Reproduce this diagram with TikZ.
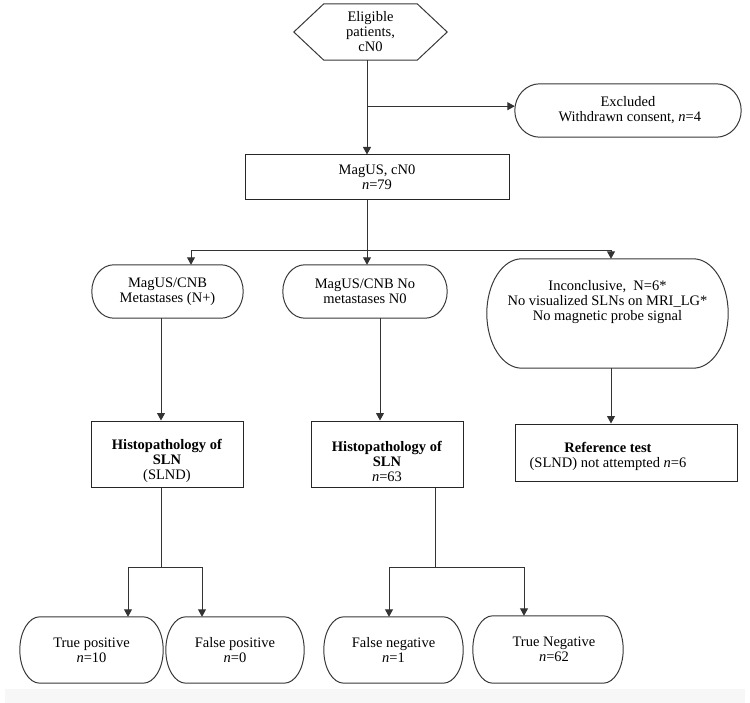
\documentclass[tikz,border=0pt]{standalone}
\usepackage{fontspec}
\setmainfont{Liberation Serif}
\usetikzlibrary{arrows.meta,calc}
\newcommand{\capsulebox}[2]{%
  \draw[boxline] let \p1=(#1.north west), \p2=(#1.south east), \n1={(\y1-\y2)/2} in
    (\x1+#2,\y1) -- (\x2-#2,\y1)
    arc[start angle=90,end angle=-90,x radius=#2,y radius=\n1*1pt]
    -- (\x1+#2,\y2)
    arc[start angle=270,end angle=90,x radius=#2,y radius=\n1*1pt] -- cycle;}
\begin{document}
\begin{tikzpicture}[x=1pt,y=-1pt,
  boxline/.style={draw=black!78,line width=1pt},
  txt/.style={align=center,inner sep=0pt,font=\fontsize{14.5}{15}\selectfont},
  box/.style={txt,draw=black!85,line width=1pt},
  capnode/.style={txt},
  ln/.style={draw=black!80,line width=1pt},
  arr/.style={ln,-{Triangle[width=8pt,length=7.5pt]}}]
\useasboundingbox (0,0) rectangle (750,703);
\fill[black!3] (5,689) rectangle (745,703);

% top hexagon
\node[txt,minimum width=153pt,minimum height=56pt] (hex) at (370.5,32) {Eligible\\patients,\\cN0};
\draw[boxline] (hex.west) -- ($(hex.north west)+(30,0)$) -- ($(hex.north east)+(-30,0)$) -- (hex.east)
  -- ($(hex.south east)+(-30,0)$) -- ($(hex.south west)+(30,0)$) -- cycle;

\node[capnode,minimum width=226pt,minimum height=53pt] (excl) at (628,110.5) {Excluded\\ \ Withdrawn consent, \textit{n}=4};
\capsulebox{excl}{25pt}

\node[box,minimum width=264pt,minimum height=45pt] (magus) at (377,177.5) {MagUS, cN0\\\textit{n}=79};

\node[capnode,minimum width=151pt,minimum height=53pt] (mpos) at (167.5,291.5) {MagUS/CNB\\Metastases (N+)};
\capsulebox{mpos}{22pt}
\node[capnode,minimum width=164pt,minimum height=53pt] (mneg) at (365,291.5) {MagUS/CNB No\\metastases N0};
\capsulebox{mneg}{22pt}
\node[capnode,minimum width=241pt,minimum height=109pt,
  label={[txt,yshift=11pt]center:{Inconclusive, \ N=6*\\No visualized SLNs on MRI\_LG*\\No magnetic probe signal}}] (inc) at (607.5,313.5) {};
\capsulebox{inc}{35pt}

\node[box,minimum width=152pt,minimum height=66pt,
  label={[txt,yshift=-7pt]center:{\textbf{Histopathology of}\\\textbf{SLN}\\(SLND)}}] (h1) at (167,454) {};
\node[box,minimum width=152pt,minimum height=66pt,
  label={[txt,yshift=-7pt]center:{\textbf{Histopathology of}\\\textbf{SLN}\\\textit{n}=63}}] (h2) at (387,454) {};
\node[box,minimum width=222pt,minimum height=57pt,
  label={[txt,xshift=-18pt,yshift=-3.5pt]center:{\textbf{Reference test}\\(SLND) not attempted \textit{n}=6}}] (ref) at (626,452.5) {};

\node[capnode,minimum width=143pt,minimum height=66pt] (tp) at (91.5,650) {True positive\\\textit{n}=10};
\capsulebox{tp}{20pt}
\node[capnode,minimum width=138pt,minimum height=66pt] (fp) at (235,650) {False positive\\\textit{n}=0};
\capsulebox{fp}{20pt}
\node[capnode,minimum width=139pt,minimum height=66pt] (fn) at (393.5,650) {False negative\\\textit{n}=1};
\capsulebox{fn}{20pt}
\node[capnode,minimum width=150pt,minimum height=67pt,
  label={[txt,xshift=6pt]center:{True Negative\\\textit{n}=62}}] (tn) at (548,649.5) {};
\capsulebox{tn}{20pt}

% connectors
\coordinate (c0) at ($(hex.south)+(-3.5,46)$);
\draw[arr] (hex.south -| c0) -- (magus.north -| c0);
\draw[arr] (c0) -- (c0 -| excl.west);

\coordinate (c1) at ($(magus.south)+(-10,50.5)$);
\coordinate (mposin) at ($(mpos.north)+(23.5,0)$);
\coordinate (incin) at ($(inc.north)+(3.5,0)$);
\draw[ln] (magus.south -| c1) -- (c1);
\draw[arr] (c1) -| (mposin);
\draw[arr] (c1) -| (incin);
\draw[arr] (c1) -- (c1 |- mneg.north);

\coordinate (mposout) at ($(mpos.south)+(-6.5,0)$);
\draw[arr] (mposout) -- (mposout |- h1.north);
\coordinate (mnegout) at ($(mneg.south)+(15,0)$);
\draw[arr] (mnegout) -- (mnegout |- h2.north);
\coordinate (incout) at ($(inc.south)+(3.5,0)$);
\draw[arr] (incout) -- (incout |- ref.north);

\coordinate (h1out) at ($(h1.south)+(-6,0)$);
\coordinate (j1) at ($(h1out)+(0,80)$);
\coordinate (tpin) at ($(tp.north)+(36.5,0)$);
\coordinate (fpin) at ($(fp.north)+(-33,0)$);
\draw[ln] (h1out) -- (j1);
\draw[arr] (j1) -| (tpin);
\draw[arr] (j1) -| (fpin);

\coordinate (h2out) at ($(h2.south)+(48,0)$);
\coordinate (j2) at ($(h2out)+(0,80)$);
\coordinate (fnin) at ($(fn.north)+(-4.5,0)$);
\coordinate (tnin) at ($(tn.north)+(-24,0)$);
\draw[ln] (h2out) -- (j2);
\draw[arr] (j2) -| (fnin);
\draw[arr] (j2) -| (tnin);
\end{tikzpicture}
\end{document}
